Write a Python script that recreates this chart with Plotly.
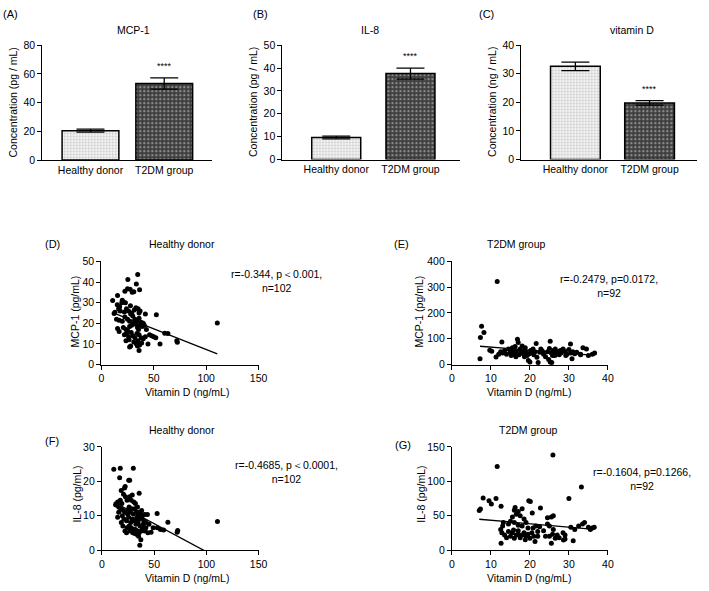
import plotly.graph_objects as go
import numpy as np

W, H = 709, 591
FONT = "Arial, Liberation Sans, Helvetica, sans-serif"

# ---------------- Data ----------------
groups = ["Healthy donor", "T2DM group"]
mcp1_mean = [20.5, 53.3]
mcp1_sem = [1.0, 3.9]
il8_mean = [9.6, 37.6]
il8_sem = [0.6, 2.4]
vitd_mean = [32.6, 19.8]
vitd_sem = [1.5, 0.8]

# (D) Healthy donor: vitamin D vs MCP-1
hd_mcp_x = [34.7, 25.3, 33.4, 36.5, 27.5, 22.5, 25.0, 29.5, 31.0,
            10.8, 15.5, 20.0, 21.0, 23.0, 19.5, 15.2, 27.8, 16.5, 17.5,
            13.0, 12.2, 18.0, 24.0, 26.0, 29.0, 31.5, 33.0, 35.0, 37.0, 36.0, 22.0, 28.0,
            14.5, 17.0, 20.0, 22.5, 25.0, 27.0, 30.0, 32.0, 34.0, 36.0, 38.0, 42.0, 52.5,
            15.5, 17.0, 21.0, 23.5, 25.0, 27.0, 29.0, 31.0, 33.0, 34.5, 35.5, 37.0, 39.0, 40.0, 41.0, 43.0, 46.0, 48.0, 50.0, 52.0,
            22.0, 24.0, 26.0, 28.5, 30.0, 32.0, 34.0, 36.0, 38.0, 40.0, 42.0,
            23.5, 26.5, 28.0, 27.0, 31.0, 33.5, 35.0, 34.5, 36.5, 38.5, 44.5, 56.0, 36.0,
            60.5, 63.5, 72.0, 72.5, 110.6]
hd_mcp_y = [43.6, 41.2, 39.0, 36.3, 36.5, 35.5, 36.8, 35.0, 35.3,
            31.0, 33.5, 31.2, 30.5, 30.0, 30.0, 29.0, 28.5, 27.0, 28.0,
            25.3, 24.8, 26.0, 27.0, 26.0, 25.0, 26.5, 27.5, 27.0, 26.0, 25.0, 25.5, 24.5,
            22.0, 21.5, 21.0, 23.0, 22.0, 21.0, 23.5, 22.0, 21.5, 22.5, 20.5, 24.5, 24.1,
            17.5, 16.0, 18.0, 17.0, 16.5, 18.5, 19.0, 20.0, 19.5, 18.0, 17.0, 19.0, 18.5, 20.0, 19.0, 17.0, 14.5, 14.0, 13.5, 13.0,
            14.5, 15.0, 13.5, 15.5, 14.0, 13.0, 15.0, 14.5, 13.0, 12.5, 13.5,
            11.5, 12.0, 9.0, 8.5, 11.0, 10.0, 11.5, 9.0, 9.5, 10.5, 10.0, 10.0, 6.8,
            15.2, 15.0, 11.5, 10.8, 20.1]
hd_mcp_fit = [27.3, -0.20]   # intercept, slope

# (E) T2DM group: vitamin D vs MCP-1
t2_mcp_x = [11.6, 7.6, 8.2, 7.3, 7.2, 9.7, 10.2, 11.3, 12.8, 12.5, 13.0, 13.5, 14.0, 14.5, 15.0,
            15.2, 15.5, 15.8, 16.0, 16.2, 16.5, 16.8, 17.0, 17.2, 17.5, 17.8, 18.0, 18.2, 18.5,
            18.8, 19.0, 19.3, 19.6, 20.0, 20.2, 20.5, 20.8, 21.0, 21.3, 21.6, 22.1, 22.5, 23.0,
            23.5, 24.0, 24.5, 25.0, 25.2, 25.2, 25.5, 25.6, 25.8, 26.0, 26.2, 26.5, 26.8, 27.0,
            27.5, 28.0, 28.5, 29.0, 29.5, 30.0, 30.4, 30.5, 30.8, 31.0, 31.5, 32.0, 33.0, 33.6,
            34.5, 35.0, 36.0, 36.6, 14.8, 15.6, 17.6, 19.8, 23.2, 26.4, 27.8, 16.4, 18.6, 21.8,
            24.8, 29.2, 33.0, 12.0, 22.8]
t2_mcp_y = [322, 149, 124, 105, 23, 56, 52, 29, 88, 50, 45, 55, 40, 60, 48,
            35, 65, 55, 42, 70, 50, 98, 86, 38, 60, 45, 72, 52, 40,
            65, 48, 35, 16, 10, 55, 45, 60, 38, 50, 82, 8, 48, 55,
            40, 30, 50, 62, 90, 10, 45, 8, 35, 55, 48, 60, 42, 50,
            38, 45, 60, 52, 40, 58, 80, 45, 23, 50, 42, 48, 40, 65,
            60, 35, 40, 45, 58, 40, 55, 42, 52, 35, 55, 30, 30, 28,
            20, 35, 38, 40, 60]
t2_mcp_fit = [79.7, -1.21]

# (F) Healthy donor: vitamin D vs IL-8
hd_il8_x = [11.3, 17.5, 30.0, 16.9, 25.6, 26.5, 22.2, 21.6, 35.6, 18.4, 20.6, 22.5, 15.0, 17.5,
            19.0, 13.0, 14.5, 16.0, 18.0, 24.0, 28.0, 30.5, 32.0, 26.0, 28.5, 20.5, 22.0, 24.5,
            27.0, 30.0, 33.0, 35.0, 37.0, 39.0, 41.0, 43.5, 33.5, 36.0, 38.0, 40.0, 42.0, 45.0,
            52.8, 18.5, 21.0, 23.5, 25.5, 27.5, 29.0, 31.0, 32.5, 34.5, 36.5, 38.5, 40.5, 24.0,
            26.0, 28.0, 30.0, 32.0, 34.0, 22.0, 23.5, 27.0, 29.5, 31.5, 33.5, 35.5, 37.5, 41.0,
            44.0, 47.0, 49.0, 53.0, 56.0, 59.0, 63.1, 72.5, 72.0, 110.6, 36.2, 37.2, 35.0, 16.0,
            19.5, 26.5, 29.0, 34.0, 20.0, 15.0, 38.0, 31.5, 36.0, 42.0, 25.0, 33.0, 39.5]
hd_il8_y = [23.5, 23.8, 23.8, 21.0, 20.3, 20.3, 18.5, 18.0, 16.5, 17.3, 16.2, 15.5, 14.0, 14.5,
            13.5, 13.2, 13.0, 12.5, 12.0, 14.5, 14.5, 14.0, 13.5, 12.5, 12.0, 11.5, 11.0, 10.5,
            11.0, 10.5, 11.0, 10.5, 10.3, 10.2, 10.3, 10.3, 9.5, 9.0, 9.5, 8.5, 8.0, 7.5,
            10.6, 8.0, 9.0, 8.5, 9.5, 8.0, 9.0, 8.5, 7.5, 8.0, 7.0, 6.5, 6.0, 6.5,
            7.0, 6.5, 6.0, 6.0, 5.5, 5.5, 5.0, 5.5, 5.0, 4.8, 4.5, 5.0, 5.5, 5.5,
            5.0, 5.2, 6.5, 6.5, 6.0, 5.8, 8.1, 5.7, 5.2, 8.3, 1.4, 3.0, 4.0, 11.0,
            10.0, 15.5, 16.0, 12.5, 7.0, 9.5, 11.5, 12.0, 11.0, 6.5, 11.8, 9.0, 7.5]
hd_il8_fit = [15.8, -0.163]

# (G) T2DM group: vitamin D vs IL-8
t2_il8_x = [25.9, 11.6, 33.2, 30.0, 8.0, 9.5, 10.1, 11.3, 7.0, 7.3, 12.6, 19.7, 20.1, 22.7, 20.6,
            12.6, 21.3, 25.5, 31.1, 28.6, 16.0, 16.5, 17.0, 17.5, 18.0, 15.5, 14.5, 15.0, 16.0,
            17.0, 18.5, 19.0, 18.0, 19.5, 13.0, 12.5, 12.8, 13.5, 14.0, 15.0, 15.5, 16.0, 16.5,
            17.0, 17.5, 18.0, 18.5, 19.0, 19.5, 20.0, 20.5, 21.0, 22.0, 22.5, 21.5, 24.0, 24.5,
            25.0, 25.5, 26.0, 25.0, 25.8, 26.5, 27.0, 28.5, 29.0, 29.0, 30.5, 31.5, 32.5, 33.5,
            34.0, 35.0, 35.5, 36.0, 36.5, 24.5, 17.0, 14.5, 20.8, 23.5, 26.0, 27.5, 13.2, 15.8,
            18.8, 22.0, 16.2]
t2_il8_y = [138, 121.5, 91.6, 75, 75.5, 71.7, 67, 75, 57.4, 59.8, 63.6, 71.7, 70.5, 61, 54,
            10, 12.3, 10, 13.3, 14.7, 58, 52, 56, 50, 60, 48, 38, 42, 40,
            36, 45, 40, 35, 32, 35, 30, 25, 22, 18, 20, 25, 17, 22,
            28, 18, 22, 25, 20, 23, 17, 25, 20, 27, 34, 35, 20, 38,
            35, 48, 50, 20, 23, 17, 22, 25, 22, 16, 33, 30, 35, 38,
            40, 33, 30, 32, 33, 47, 23, 27, 32, 28, 30, 18, 40, 29,
            15, 20, 62]
t2_il8_fit = [48.25, -0.50]

# ---------------- Layout helpers ----------------
def dx(px):
    return px / W

def dy(py):
    return 1 - py / H

fig = go.Figure()
annotations = []
layout = dict(width=W, height=H, margin=dict(l=0, r=0, t=0, b=0),
              paper_bgcolor="white", plot_bgcolor="white", showlegend=False,
              font=dict(family=FONT, color="black", size=10.5))

AX = dict(showgrid=False, zeroline=False, showline=True, linecolor="black", linewidth=1.2,
          ticks="outside", ticklen=4, tickwidth=1.2, tickcolor="black",
          tickfont=dict(family=FONT, size=10.5, color="black"))


def text(x, y, s, size=10.5, xanchor="center", yanchor="middle", align="center"):
    annotations.append(dict(x=dx(x), y=dy(y), xref="paper", yref="paper", text=s,
                            showarrow=False, xanchor=xanchor, yanchor=yanchor, align=align,
                            font=dict(family=FONT, size=size, color="black")))


def ytitle(x, y, s):
    annotations.append(dict(x=dx(x), y=dy(y), xref="paper", yref="paper", text=s,
                            showarrow=False, textangle=-90, xanchor="center", yanchor="middle",
                            font=dict(family=FONT, size=10.5, color="black")))


# ---------------- Bar panels ----------------
bar_panels = [
    (1, mcp1_mean, mcp1_sem, (40, 213, 40, 157.3), [-0.653, 1.653], [0, 80], 20, 0.77,
     "MCP-1", (133, 25), (8, 8), "Concentration (pg / mL)", 10),
    (2, il8_mean, il8_sem, (284.3, 465, 40, 156.7), [-0.724, 1.669], [0, 50], 10, 0.66,
     "IL-8", (373.5, 25), (262, 8), "Concentration (pg / mL)", 255),
    (3, vitd_mean, vitd_sem, (527.3, 706, 40, 156.7), [-0.728, 1.64], [0, 40], 10, 0.67,
     "vitamin D", (640, 25), (492, 8), "Concentration (ng / mL)", 498),
]

for idx, means, sems, box, xr, yr, dt, bw, title, tpos, lpos, yt, ytx in bar_panels:
    xa = "x" if idx == 1 else f"x{idx}"
    ya = "y" if idx == 1 else f"y{idx}"
    x0, x1, y0, y1 = box
    styles = [dict(bg="white", fg="#8c8c8c", size=3, sol=0.45),
              dict(bg="#3c3c3c", fg="#d8d8d8", size=4, sol=0.3)]
    for i in range(2):
        st = styles[i]
        fig.add_trace(go.Bar(
            x=[i], y=[means[i]], width=bw, xaxis=xa, yaxis=ya,
            marker=dict(color=st["bg"], line=dict(color="black", width=1.5),
                        pattern=dict(shape=".", bgcolor=st["bg"], fgcolor=st["fg"],
                                     size=st["size"], solidity=st["sol"])),
            error_y=dict(type="data", array=[sems[i]], color="black", thickness=1.3, width=14),
        ))
    layout["xaxis" if idx == 1 else f"xaxis{idx}"] = dict(
        AX, domain=[dx(x0), dx(x1)], range=xr, anchor=ya, tickvals=[0, 1], ticktext=groups,
        ticks="", tickfont=dict(family=FONT, size=10.5, color="black"))
    layout["yaxis" if idx == 1 else f"yaxis{idx}"] = dict(
        AX, domain=[dy(y1), dy(y0)], range=yr, anchor=xa, dtick=dt, tick0=0)
    text(tpos[0], tpos[1], title, size=10.5)
    text(lpos[0], lpos[1], f"({'ABC'[idx-1]})", size=11)
    ytitle(ytx, (y0 + y1) / 2, yt)
    annotations.append(dict(x=1, y=means[1] + sems[1], xref=xa, yref=ya, text="****",
                            showarrow=False, yanchor="bottom", yshift=5,
                            font=dict(family=FONT, size=9, color="black")))

# ---------------- Scatter panels ----------------
scatter_panels = [
    (4, hd_mcp_x, hd_mcp_y, hd_mcp_fit, (100, 260, 260.7, 366), [0, 150], 50, [0, 50], 10,
     "Healthy donor", (182, 243), "(D)", (50, 243), "MCP-1 (pg/mL)", (73, 312),
     (187, 394), "r=-0.344, p\uff1c0.001,<br>n=102", (278, 281)),
    (5, t2_mcp_x, t2_mcp_y, t2_mcp_fit, (456.7, 615.3, 260.7, 366), [0, 40], 10, [0, 400], 100,
     "T2DM group", (522, 243), "(E)", (405, 243), "MCP-1 (pg/mL)", (423, 312),
     (535, 394), "r=-0.2479, p=0.0172,<br>n=92", (616, 286)),
    (6, hd_il8_x, hd_il8_y, hd_il8_fit, (100.7, 260, 450, 555.3), [0, 150], 50, [0, 30], 10,
     "Healthy donor", (182, 433), "(F)", (50, 444), "IL-8 (pg/mL)", (75, 498),
     (187, 584), "r=-0.4685, p\uff1c0.0001,<br>n=102", (288, 476)),
    (7, t2_il8_x, t2_il8_y, t2_il8_fit, (456.7, 615.3, 450, 555.3), [0, 40], 10, [0, 150], 50,
     "T2DM group", (535, 433), "(G)", (407, 448), "IL-8 (pg/mL)", (425, 498),
     (535, 584), "r=-0.1604, p=0.1266,<br>n=92", (650, 483)),
]

for (idx, xs, ys, fit, box, xr, xdt, yr, ydt, title, tpos, lab, lpos, yt, ytpos,
     xtpos, stat, spos) in scatter_panels:
    xa, ya = f"x{idx}", f"y{idx}"
    x0, x1, y0, y1 = box
    fig.add_trace(go.Scatter(x=xs, y=ys, mode="markers", xaxis=xa, yaxis=ya,
                             marker=dict(color="black", size=5, line=dict(width=0)),
                             cliponaxis=False))
    lx = np.array([min(xs), max(xs)])
    ly = fit[0] + fit[1] * lx
    fig.add_trace(go.Scatter(x=lx, y=ly, mode="lines", xaxis=xa, yaxis=ya,
                             line=dict(color="black", width=1.3)))
    layout[f"xaxis{idx}"] = dict(AX, domain=[dx(x0), dx(x1)], range=xr, dtick=xdt, tick0=0,
                                 anchor=ya)
    layout[f"yaxis{idx}"] = dict(AX, domain=[dy(y1), dy(y0)], range=yr, dtick=ydt, tick0=0,
                                 anchor=xa)
    text(tpos[0], tpos[1], title)
    text(lpos[0], lpos[1], lab, size=11)
    ytitle(ytpos[0], ytpos[1], yt)
    text(xtpos[0], xtpos[1], "Vitamin D (ng/mL)")
    text(spos[0], spos[1], stat)

layout["annotations"] = annotations
fig.update_layout(**layout)
fig.write_html("out.html", config={"displayModeBar": False},
               post_script="document.body.style.margin='0px';document.body.style.overflow='hidden';")
